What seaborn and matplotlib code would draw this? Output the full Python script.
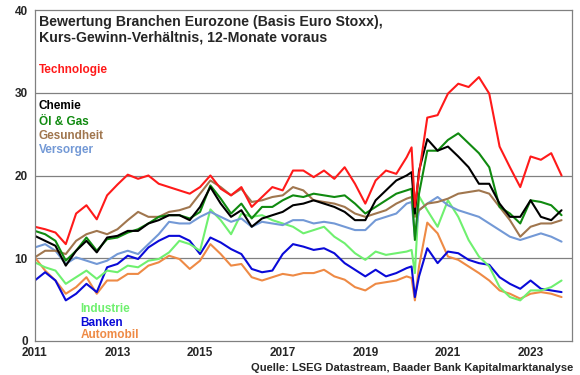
import pandas as pd
import matplotlib
matplotlib.use('Agg')
import matplotlib.pyplot as plt
import seaborn as sns


# quarterly reading of the chart, with extra points around the 2020 crash
JAHR = [2011.0, 2011.25, 2011.5, 2011.75, 2012.0, 2012.25, 2012.5, 2012.75,
        2013.0, 2013.25, 2013.5, 2013.75, 2014.0, 2014.25, 2014.5, 2014.75,
        2015.0, 2015.25, 2015.5, 2015.75, 2016.0, 2016.25, 2016.5, 2016.75,
        2017.0, 2017.25, 2017.5, 2017.75, 2018.0, 2018.25, 2018.5, 2018.75,
        2019.0, 2019.25, 2019.5, 2019.75, 2020.0, 2020.12, 2020.2, 2020.3,
        2020.5, 2020.75, 2021.0, 2021.25, 2021.5, 2021.75, 2022.0, 2022.25,
        2022.5, 2022.75, 2023.0, 2023.25, 2023.5, 2023.75]

TECHNOLOGIE = [13.8, 13.5, 13.1, 11.7, 15.4, 16.4, 14.7, 17.6, 18.9, 20.1, 19.6, 20.0,
               19.0, 18.6, 18.2, 17.8, 18.6, 20.0, 18.4, 17.6, 18.6, 16.2, 17.4, 18.6,
               18.2, 20.6, 20.6, 19.8, 20.6, 19.6, 21.0, 19.0, 16.6, 19.4, 20.6, 20.2,
               22.2, 23.4, 16.2, 20.2, 27.0, 27.3, 29.9, 31.1, 30.7, 31.9, 29.9, 23.5,
               21.0, 18.6, 22.3, 21.9, 22.7, 20.0]
CHEMIE = [12.7, 12.1, 11.5, 9.1, 10.9, 12.1, 10.7, 12.5, 12.7, 13.3, 13.3, 14.2,
          14.6, 15.2, 15.2, 14.6, 16.2, 18.6, 16.6, 15.0, 15.8, 13.8, 14.8, 15.2,
          15.6, 16.4, 16.6, 17.0, 16.6, 16.2, 15.6, 14.6, 14.6, 17.0, 18.2, 19.4,
          20.0, 20.4, 15.4, 20.6, 24.4, 23.0, 23.5, 22.3, 21.0, 19.0, 19.0, 16.6,
          15.0, 15.0, 17.0, 15.0, 14.6, 15.8]
OEL_GAS = [13.3, 12.9, 12.1, 9.7, 10.9, 12.5, 10.9, 12.3, 12.5, 13.1, 13.5, 14.2,
           15.0, 15.2, 15.2, 14.8, 15.6, 18.8, 17.2, 15.4, 16.6, 14.8, 16.2, 16.2,
           17.0, 17.6, 17.4, 17.8, 17.6, 17.4, 17.6, 16.6, 15.4, 16.2, 17.0, 17.8,
           18.2, 18.4, 12.2, 17.8, 23.0, 23.0, 24.3, 25.1, 23.9, 22.7, 21.0, 16.2,
           15.4, 14.2, 17.0, 16.8, 16.4, 15.2]
GESUNDHEIT = [10.1, 10.9, 10.9, 10.5, 12.1, 12.9, 13.3, 12.9, 13.5, 14.6, 15.6, 15.0,
              15.0, 15.6, 15.8, 16.2, 17.8, 19.4, 18.6, 17.6, 18.4, 16.8, 17.0, 17.4,
              17.6, 18.6, 18.2, 17.0, 16.8, 16.6, 16.2, 15.4, 15.0, 15.4, 15.8, 16.6,
              17.2, 17.4, 15.0, 15.8, 16.6, 16.8, 17.2, 17.8, 18.0, 18.2, 17.8, 16.2,
              14.6, 12.6, 13.8, 14.2, 14.2, 14.6]
VERSORGER = [11.3, 11.7, 10.9, 9.3, 10.1, 9.7, 9.3, 9.7, 10.5, 10.9, 10.5, 11.7,
             12.9, 14.4, 14.2, 14.2, 15.0, 15.6, 15.0, 14.4, 14.8, 13.8, 14.4, 14.2,
             14.0, 14.6, 14.6, 14.2, 14.4, 14.2, 13.8, 13.4, 13.4, 14.6, 15.0, 15.4,
             16.6, 16.8, 12.6, 15.8, 16.6, 17.4, 16.4, 15.8, 15.4, 15.0, 14.2, 13.4,
             12.6, 12.2, 12.6, 13.0, 12.6, 12.0]
INDUSTRIE = [9.5, 8.9, 8.5, 6.9, 7.7, 8.5, 7.5, 8.5, 8.3, 9.1, 8.9, 9.7,
             9.9, 10.7, 12.1, 11.7, 10.9, 15.9, 14.6, 12.9, 15.4, 15.0, 15.2, 14.6,
             14.2, 13.8, 13.0, 13.4, 13.8, 12.6, 11.8, 10.6, 9.8, 10.8, 10.4, 10.6,
             10.8, 11.0, 8.2, 17.5, 15.8, 13.8, 17.0, 15.0, 12.2, 10.2, 9.0, 6.5,
             5.3, 4.9, 6.1, 6.1, 6.5, 7.3]
BANKEN = [7.3, 8.3, 7.3, 4.9, 5.7, 6.9, 5.9, 8.9, 9.3, 10.3, 9.9, 11.3,
          12.1, 12.7, 12.7, 12.1, 10.5, 12.5, 11.9, 11.1, 10.5, 8.7, 8.3, 8.5,
          10.5, 11.7, 11.4, 11.0, 11.2, 10.6, 9.4, 8.6, 7.8, 8.6, 7.8, 8.2,
          8.8, 9.0, 5.3, 7.8, 11.2, 9.4, 10.8, 10.6, 9.8, 9.4, 9.2, 7.7,
          6.9, 6.3, 7.3, 6.3, 6.1, 5.9]
AUTOMOBIL = [10.1, 8.5, 7.3, 5.7, 6.5, 7.7, 5.7, 7.3, 7.3, 8.1, 8.1, 9.1,
             9.5, 10.3, 9.9, 8.7, 9.7, 11.7, 10.5, 9.1, 9.3, 7.7, 7.3, 7.7,
             8.1, 7.9, 8.2, 8.2, 8.6, 7.8, 7.4, 6.5, 6.1, 6.9, 7.1, 7.3,
             7.8, 7.6, 4.9, 9.0, 14.3, 13.0, 10.2, 9.8, 9.0, 8.2, 7.3, 6.1,
             5.7, 5.1, 5.7, 5.9, 5.7, 5.3]

BRANCHEN = ['Automobil', 'Banken', 'Industrie', 'Versorger', 'Gesundheit',
            'Öl & Gas', 'Chemie', 'Technologie']
WERTE = [AUTOMOBIL, BANKEN, INDUSTRIE, VERSORGER, GESUNDHEIT, OEL_GAS, CHEMIE, TECHNOLOGIE]
FARBEN = {'Technologie': '#ff1a1a', 'Chemie': '#000000', 'Öl & Gas': '#108a10',
          'Gesundheit': '#a0764e', 'Versorger': '#7399d6', 'Industrie': '#6ff06f',
          'Banken': '#0a0ad8', 'Automobil': '#ee8a45'}

TITEL = 'Bewertung Branchen Eurozone (Basis Euro Stoxx),\nKurs-Gewinn-Verhältnis, 12-Monate voraus'
QUELLE = 'Quelle: LSEG Datastream, Baader Bank Kapitalmarktanalyse'


df = pd.concat([pd.DataFrame({'Jahr': JAHR, 'KGV': w, 'Branche': b})
                for b, w in zip(BRANCHEN, WERTE)], ignore_index=True)

sns.set_style('white')
plt.rcParams['font.family'] = ['Liberation Sans', 'DejaVu Sans']

fig = plt.figure(figsize=(5.8, 3.75), dpi=100)
ax = fig.add_axes([0.060, 0.091, 0.926, 0.882])

for y in [10, 20, 30]:
    ax.axhline(y, color='#808080', lw=0.9, zorder=0)

sns.lineplot(data=df, x='Jahr', y='KGV', hue='Branche', palette=FARBEN,
             hue_order=BRANCHEN, linewidth=1.5, legend=False, ax=ax)

ax.set_xlim(2011, 2024)
ax.set_ylim(0, 40)
ax.set_xticks([2011, 2013, 2015, 2017, 2019, 2021, 2023])
ax.set_yticks([0, 10, 20, 30, 40])
ax.set_xlabel('')
ax.set_ylabel('')
for s in ax.spines.values():
    s.set_color('#808080')
    s.set_linewidth(0.9)
ax.tick_params(axis='x', length=3, width=0.8, color='#808080', pad=1.5, labelsize=8.5)
ax.tick_params(axis='y', length=0, pad=5, labelsize=8.5)
for lab in ax.get_xticklabels() + ax.get_yticklabels():
    lab.set_fontweight('bold')

ax.text(2011.1, 39.4, TITEL, fontsize=10.2, fontweight='bold', va='top', ha='left',
        linespacing=1.12)

oben = [('Technologie', 32.7), ('Chemie', 28.4), ('Öl & Gas', 26.5),
        ('Gesundheit', 24.8), ('Versorger', 23.1)]
for name, y in oben:
    ax.text(2011.1, y, name, color=FARBEN[name], fontsize=8.5, fontweight='bold', va='center')
unten = [('Industrie', 3.9), ('Banken', 2.2), ('Automobil', 0.7)]
for name, y in unten:
    ax.text(2012.1, y, name, color=FARBEN[name], fontsize=8.5, fontweight='bold', va='center')

fig.text(0.988, 0.006, QUELLE, fontsize=8, fontweight='bold', ha='right', va='bottom')

fig.savefig('out.png', dpi=100)
plt.close()
